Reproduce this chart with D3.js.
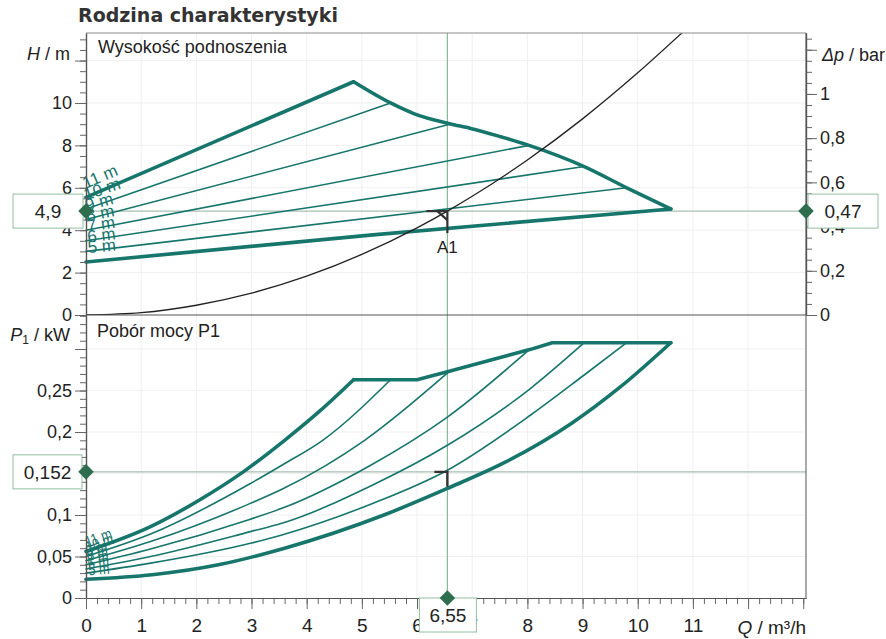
<!DOCTYPE html>
<html>
<head>
<meta charset="utf-8">
<script src="https://cdn.jsdelivr.net/npm/d3@7"></script>
<style>
  html, body { margin: 0; padding: 0; background: #fff; }
  svg { display: block; font-family: "Liberation Sans", Arial, sans-serif; }
</style>
</head>
<body>
<div id="chart"></div>
<script>
(function () {
  'use strict';

  // ---- values ----
  var SPEEDS = ['5 m', '6 m', '7 m', '8 m', '9 m', '10 m', '11 m'];

  // head H / m against flow Q / m3/h
  var HEAD_5  = [[0, 2.5], [5.2, 3.78], [10.6, 5.0]];
  var HEAD_6  = [[0, 3.0], [9.8, 6.0]];
  var HEAD_7  = [[0, 3.5], [9.03, 7.0]];
  var HEAD_8  = [[0, 4.0], [8.03, 8.0]];
  var HEAD_9  = [[0, 4.5], [6.59, 9.0]];
  var HEAD_10 = [[0, 5.0], [5.52, 10.0]];
  var HEAD_11 = [[0, 5.55], [4.85, 11.0]];
  var HEAD_MAX = [[4.85, 11.0], [5.52, 10.0], [5.94, 9.5], [6.59, 9.02], [6.97, 8.8],
                  [7.5, 8.42], [8.03, 8.0], [9.03, 7.0], [9.8, 6.0], [10.6, 5.0]];

  // power P1 / kW against flow Q / m3/h
  var POWER_5  = [[0, 0.0225], [1.2, 0.028], [2.4, 0.04], [3.6, 0.06], [5.4, 0.1], [6.55, 0.132],
                  [7.58, 0.163], [8.79, 0.21], [9.69, 0.2546], [10.6, 0.3076]];
  var POWER_6  = [[0, 0.030], [1.17, 0.042], [2.98, 0.066], [3.55, 0.076], [5.16, 0.113],
                  [6.55, 0.154], [8.06, 0.2205], [9.03, 0.2687], [9.8, 0.3076]];
  var POWER_7  = [[0, 0.035], [1.17, 0.050], [2.98, 0.080], [3.55, 0.090], [5.16, 0.135],
                  [6.55, 0.184], [8.06, 0.2527], [9.03, 0.3076]];
  var POWER_8  = [[0, 0.040], [1.17, 0.059], [2.98, 0.095], [3.55, 0.108], [5.16, 0.160],
                  [6.55, 0.218], [8.03, 0.299]];
  var POWER_9  = [[0, 0.045], [1.17, 0.068], [2.98, 0.114], [3.55, 0.131], [5.05, 0.19], [6.59, 0.2733]];
  var POWER_10 = [[0, 0.050], [1.17, 0.077], [2.98, 0.138], [3.55, 0.160], [4.29, 0.19], [5.52, 0.263]];
  var POWER_11 = [[0, 0.056], [1.17, 0.086], [2.08, 0.119], [2.85, 0.152], [3.6, 0.19], [4.25, 0.226], [4.85, 0.263]];
  var POWER_MAX = [[4.85, 0.263], [6.0, 0.263], [6.55, 0.2726], [8.06, 0.2996], [8.45, 0.3076], [10.6, 0.3076]];

  // system curve (black)
  var SYSTEM = [[0, 0], [1, 0.11], [2, 0.46], [3, 1.03], [4, 1.83], [5, 2.86], [6, 4.11],
                [6.55, 4.9], [7, 5.6], [8, 7.31], [9, 9.25], [10, 11.42], [10.8, 13.3]];

  // operating point A1
  var OP_Q = 6.55, OP_H = 4.9, OP_DP = 0.47, OP_P = 0.152;
  var OP_LABELS = { q: '6,55', h: '4,9', dp: '0,47', p: '0,152' };

  var H_MAJOR  = [0, 2, 4, 6, 8, 10, 12];
  var DP_MAJOR = [0, 0.2, 0.4, 0.6, 0.8, 1, 1.2];
  var P_MAJOR  = [0, 0.05, 0.1, 0.15, 0.2, 0.25, 0.3];
  var Q_MAJOR  = [0, 1, 2, 3, 4, 5, 6, 7, 8, 9, 10, 11, 12, 13];

  // ---- look ----
  var W = 886, HGT = 639;
  var X0 = 86, X1 = 806, TOP = 33, MID = 315, BOT = 598;
  var TEAL = '#17766c';
  var AXIS = '#555';
  var TEXT = '#222';
  var REF_H = '#a7bfb0';
  var REF_V = '#86b896';
  var BOX_STROKE = '#93bea3';
  var DIAMOND = '#2e6e4e';
  var THICK = 3.6, THIN = 1.6;
  var FS = 18;

  var BAR_PER_M = OP_DP / OP_H;

  function comma(v) { return String(+v.toFixed(3)).replace('.', ','); }

  var x   = d3.scaleLinear().domain([0, 13.05]).range([X0, X1]);
  var yH  = d3.scaleLinear().domain([0, 13.3]).range([MID, TOP]);
  var yDp = d3.scaleLinear().domain([0, 13.3 * BAR_PER_M]).range([MID, TOP]);
  var yP  = d3.scaleLinear().domain([0, 0.341]).range([BOT, MID]);

  var svg = d3.select('#chart').append('svg')
    .attr('width', W).attr('height', HGT)
    .attr('viewBox', '0 0 ' + W + ' ' + HGT);

  svg.append('clipPath').attr('id', 'clipTop')
    .append('rect').attr('x', X0).attr('y', TOP).attr('width', X1 - X0).attr('height', MID - TOP);

  // faint grid
  var grid = svg.append('g').attr('stroke', '#efefef').attr('stroke-width', 1);
  d3.range(1, 13).forEach(function (q) {
    grid.append('line').attr('x1', x(q)).attr('x2', x(q)).attr('y1', TOP).attr('y2', BOT);
  });
  H_MAJOR.slice(1).forEach(function (h) {
    grid.append('line').attr('x1', X0).attr('x2', X1).attr('y1', yH(h)).attr('y2', yH(h));
  });
  P_MAJOR.slice(1).forEach(function (p) {
    grid.append('line').attr('x1', X0).attr('x2', X1).attr('y1', yP(p)).attr('y2', yP(p));
  });

  // reference lines through the operating point
  svg.append('line').attr('x1', X0).attr('x2', X1).attr('y1', yH(OP_H)).attr('y2', yH(OP_H))
    .attr('stroke', REF_H).attr('stroke-width', 1.2);
  svg.append('line').attr('x1', X0).attr('x2', X1).attr('y1', yP(OP_P)).attr('y2', yP(OP_P))
    .attr('stroke', REF_H).attr('stroke-width', 1.2);
  svg.append('line').attr('x1', x(OP_Q)).attr('x2', x(OP_Q)).attr('y1', TOP).attr('y2', BOT)
    .attr('stroke', REF_V).attr('stroke-width', 1.2);

  // ---- curves ----
  function lineGen(ys, curve) {
    return d3.line()
      .x(function (d) { return x(d[0]); })
      .y(function (d) { return ys(d[1]); })
      .curve(curve || d3.curveLinear);
  }

  var headCurves = [HEAD_5, HEAD_6, HEAD_7, HEAD_8, HEAD_9, HEAD_10, HEAD_11];
  var powerCurves = [POWER_5, POWER_6, POWER_7, POWER_8, POWER_9, POWER_10, POWER_11];

  var top = svg.append('g').attr('class', 'head-curves');
  headCurves.forEach(function (c, i) {
    var thick = (i === 0 || i === SPEEDS.length - 1);
    top.append('path').attr('d', lineGen(yH)(c))
      .attr('fill', 'none').attr('stroke', TEAL)
      .attr('stroke-width', thick ? THICK : THIN)
      .attr('stroke-linecap', 'round').attr('stroke-linejoin', 'round');
  });
  top.append('path').attr('d', lineGen(yH, d3.curveMonotoneX)(HEAD_MAX))
    .attr('fill', 'none').attr('stroke', TEAL).attr('stroke-width', THICK)
    .attr('stroke-linecap', 'round').attr('stroke-linejoin', 'round');

  var bottom = svg.append('g').attr('class', 'power-curves');
  powerCurves.forEach(function (c, i) {
    var thick = (i === 0 || i === SPEEDS.length - 1);
    bottom.append('path').attr('d', lineGen(yP, d3.curveMonotoneX)(c))
      .attr('fill', 'none').attr('stroke', TEAL)
      .attr('stroke-width', thick ? THICK : THIN)
      .attr('stroke-linecap', 'round').attr('stroke-linejoin', 'round');
  });
  bottom.append('path').attr('d', lineGen(yP)(POWER_MAX))
    .attr('fill', 'none').attr('stroke', TEAL).attr('stroke-width', THICK)
    .attr('stroke-linecap', 'round').attr('stroke-linejoin', 'round');

  // system curve
  svg.append('path').attr('clip-path', 'url(#clipTop)')
    .attr('d', lineGen(yH, d3.curveMonotoneX)(SYSTEM))
    .attr('fill', 'none').attr('stroke', '#222').attr('stroke-width', 1.3);

  // curve labels, rotated along the start of each curve
  function curveLabels(curves, ys, lift, fontSize, sx) {
    var g = svg.append('g').attr('fill', TEAL)
      .attr('font-size', fontSize + 'px');
    curves.forEach(function (c, i) {
      var dx = x(c[1][0]) - x(c[0][0]);
      var dy = ys(c[1][1]) - ys(c[0][1]);
      var ang = Math.atan2(dy, dx) * 180 / Math.PI;
      var px = x(0) + 3;
      var py = ys(c[0][1]);
      g.append('text')
        .attr('transform', 'translate(' + px + ',' + py + ') rotate(' + ang + ') scale(' + sx + ',1)')
        .attr('y', -lift)
        .text(SPEEDS[i]);
    });
  }
  curveLabels(headCurves, yH, 9, 17, 1);
  curveLabels(powerCurves, yP, 4, 16, 0.8);

  // ---- frame ----
  svg.append('line').attr('x1', X0).attr('x2', X1).attr('y1', TOP).attr('y2', TOP)
    .attr('stroke', '#8a8a8a').attr('stroke-width', 1);
  svg.append('line').attr('x1', X1).attr('x2', X1).attr('y1', TOP).attr('y2', BOT)
    .attr('stroke', AXIS).attr('stroke-width', 1);
  svg.append('line').attr('x1', X0).attr('x2', X1).attr('y1', MID).attr('y2', MID)
    .attr('stroke', AXIS).attr('stroke-width', 1.2);

  // ---- axes ----
  function styleAxis(g, size) {
    g.select('.domain').attr('stroke', AXIS).attr('stroke-width', 1.2);
    g.selectAll('.tick line').attr('stroke', '#666');
    g.selectAll('.tick text').attr('fill', TEXT).attr('font-size', (size || FS) + 'px')
      .attr('font-family', '"Liberation Sans", Arial, sans-serif');
    g.attr('font-family', null).attr('font-size', null);
  }

  function addAxis(axisFn, scale, transform, minorVals, majorVals, fmt, size) {
    var gMinor = svg.append('g').attr('transform', transform)
      .call(axisFn(scale).tickValues(minorVals).tickSize(6).tickSizeOuter(0).tickFormat(''));
    styleAxis(gMinor);
    var gMajor = svg.append('g').attr('transform', transform)
      .call(axisFn(scale).tickValues(majorVals).tickSize(11).tickSizeOuter(0).tickPadding(3).tickFormat(fmt));
    styleAxis(gMajor, size);
    return gMajor;
  }

  addAxis(d3.axisLeft, yH, 'translate(' + X0 + ',0)', d3.range(0, 13.01, 0.5), H_MAJOR,
    function (v) { return v === 12 ? '' : comma(v); });
  addAxis(d3.axisRight, yDp, 'translate(' + X1 + ',0)', d3.range(0, 1.26, 0.05), DP_MAJOR,
    function (v) { return v === 1.2 ? '' : comma(v); });
  // 0,15 and 0,3 sit under the value box and the axis title
  addAxis(d3.axisLeft, yP, 'translate(' + X0 + ',0)', d3.range(0, 0.3405, 0.01), P_MAJOR,
    function (v) { return (v === 0.3 || v === 0.15) ? '' : comma(v); });
  var gx = addAxis(d3.axisBottom, x, 'translate(0,' + BOT + ')', d3.range(0, 13.01, 0.2), Q_MAJOR,
    function (v) { return v > 11 ? '' : comma(v); }, 19);
  gx.selectAll('.tick text').attr('dy', '1.05em');

  // axis titles
  var hT = svg.append('text').attr('x', 70).attr('y', yH(12) - 6).attr('dy', '0.32em')
    .attr('text-anchor', 'end').attr('font-size', FS + 'px').attr('fill', TEXT);
  hT.append('tspan').attr('font-style', 'italic').text('H');
  hT.append('tspan').text(' / m');

  var dT = svg.append('text').attr('x', 822).attr('y', yH(12) - 5).attr('dy', '0.32em')
    .attr('font-size', FS + 'px').attr('fill', TEXT);
  dT.append('tspan').attr('font-style', 'italic').text('\u0394p');
  dT.append('tspan').text(' / bar');

  var pT = svg.append('text').attr('x', 70).attr('y', yP(0.3) - 14).attr('dy', '0.32em')
    .attr('text-anchor', 'end').attr('font-size', FS + 'px').attr('fill', TEXT);
  pT.append('tspan').attr('font-style', 'italic').text('P');
  pT.append('tspan').attr('font-size', '12px').attr('dy', '3').text('1');
  pT.append('tspan').attr('dy', '-3').text(' / kW');

  var qT = svg.append('text').attr('x', X1).attr('y', 634)
    .attr('text-anchor', 'end').attr('font-size', '19px').attr('fill', TEXT);
  qT.append('tspan').attr('font-style', 'italic').text('Q');
  qT.append('tspan').text(' / m\u00b3/h');

  // panel captions and title
  svg.append('text').attr('x', 98).attr('y', 53).attr('font-size', FS + 'px').attr('fill', TEXT)
    .text('Wysoko\u015b\u0107 podnoszenia');
  svg.append('text').attr('x', 97).attr('y', 337).attr('font-size', FS + 'px').attr('fill', TEXT)
    .text('Pob\u00f3r mocy P1');
  svg.append('text').attr('x', 78).attr('y', 22)
    .attr('font-family', '"DejaVu Sans", Verdana, sans-serif').attr('font-weight', 'bold')
    .attr('font-size', '19px').attr('fill', '#333')
    .text('Rodzina charakterystyki');

  // ---- operating point markers ----
  var ox = x(OP_Q), oyH = yH(OP_H), oyP = yP(OP_P);
  var mk = svg.append('g').attr('stroke', '#333').attr('fill', 'none');
  mk.append('path').attr('d', 'M' + (ox - 21) + ',' + oyH + 'H' + ox + 'V' + (oyH + 22))
    .attr('stroke-width', 2.2);
  mk.append('path').attr('d', 'M' + (ox - 10) + ',' + oyH + 'L' + ox + ',' + (oyH + 9))
    .attr('stroke-width', 2.2);
  mk.append('path').attr('d', 'M' + (ox - 13) + ',' + oyP + 'H' + ox + 'V' + (oyP + 15))
    .attr('stroke-width', 2.4);
  svg.append('text').attr('x', ox).attr('y', oyH + 42).attr('text-anchor', 'middle')
    .attr('font-size', '17px').attr('fill', TEXT).text('A1');

  // ---- value boxes with diamonds ----
  function valueBox(bx, by, bw, bh, label, size) {
    svg.append('rect').attr('x', bx).attr('y', by).attr('width', bw).attr('height', bh)
      .attr('fill', '#fff').attr('stroke', BOX_STROKE).attr('stroke-width', 1);
    svg.append('text').attr('x', bx + bw / 2).attr('y', by + bh / 2).attr('dy', '0.35em')
      .attr('text-anchor', 'middle').attr('font-size', (size || 19) + 'px').attr('fill', TEXT)
      .text(label);
  }
  function diamond(cx, cy) {
    svg.append('rect').attr('x', -5.5).attr('y', -5.5).attr('width', 11).attr('height', 11)
      .attr('transform', 'translate(' + cx + ',' + cy + ') rotate(45)')
      .attr('fill', DIAMOND);
  }

  valueBox(13, oyH - 17, 70, 34, OP_LABELS.h);
  valueBox(X1 + 2, oyH - 17, 70, 34, OP_LABELS.dp);
  valueBox(13, oyP - 17, 69, 34, OP_LABELS.p);
  valueBox(ox - 28, BOT, 57, 34, OP_LABELS.q);

  diamond(X0, oyH);
  diamond(X1, yDp(OP_DP));
  diamond(X0, oyP);
  diamond(ox, BOT);
})();
</script>
</body>
</html>
